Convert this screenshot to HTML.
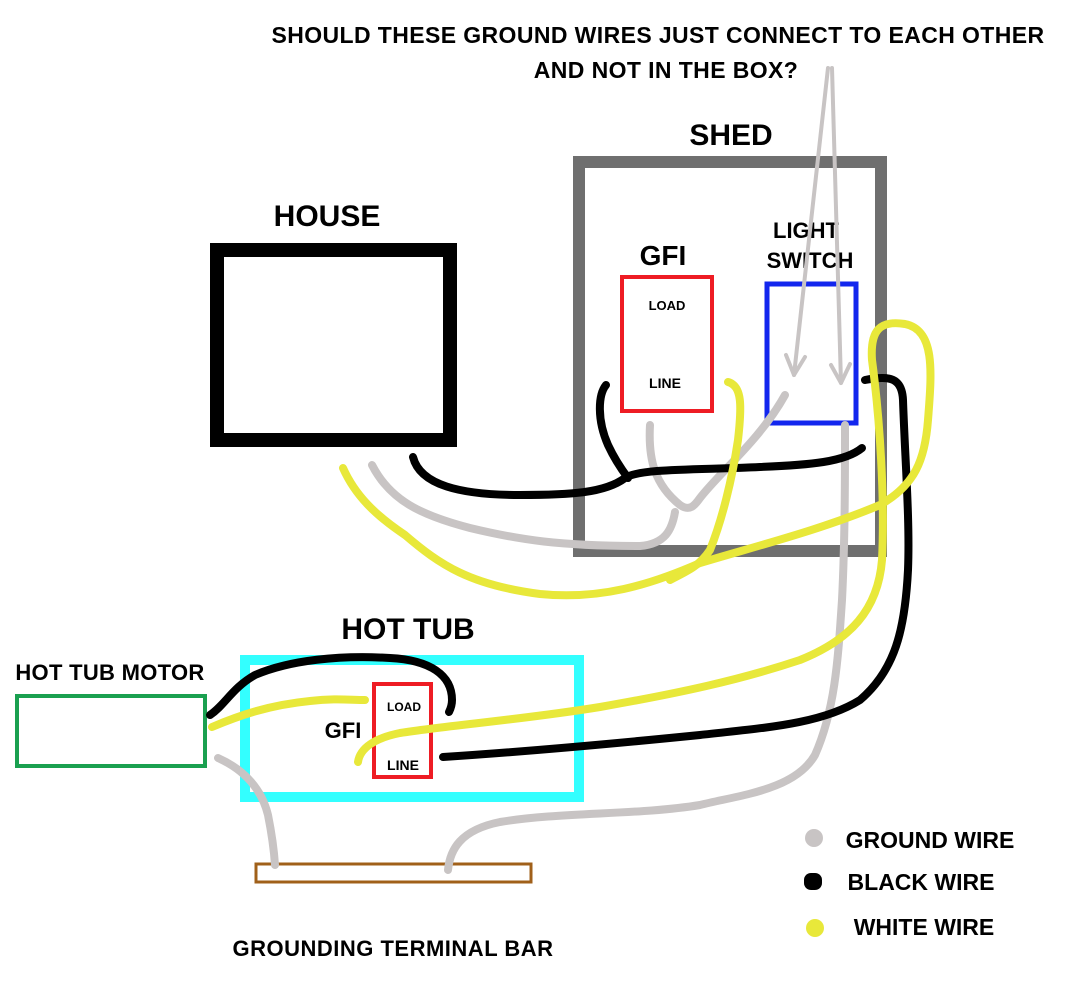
<!DOCTYPE html>
<html><head><meta charset="utf-8"><style>
html,body{margin:0;padding:0;background:#fff;}
svg{display:block;}
text{font-family:"Liberation Sans",sans-serif;font-weight:bold;fill:#000;}
</style></head><body>
<svg width="1077" height="984" viewBox="0 0 1077 984" xmlns="http://www.w3.org/2000/svg">
<!-- Titles -->
<text x="658" y="43" font-size="23" letter-spacing="0.4" text-anchor="middle">SHOULD THESE GROUND WIRES JUST CONNECT TO EACH OTHER</text>
<text x="666" y="78" font-size="23" letter-spacing="0.4" text-anchor="middle">AND NOT IN THE BOX?</text>
<text x="731" y="145" font-size="30" text-anchor="middle">SHED</text>
<text x="327" y="226" font-size="30" text-anchor="middle">HOUSE</text>
<text x="663" y="265" font-size="28" text-anchor="middle">GFI</text>
<text x="806" y="238" font-size="22" text-anchor="middle">LIGHT</text>
<text x="810" y="268" font-size="22" text-anchor="middle">SWITCH</text>
<text x="667" y="310" font-size="13" text-anchor="middle">LOAD</text>
<text x="665" y="388" font-size="14" text-anchor="middle">LINE</text>
<text x="408" y="639" font-size="30" text-anchor="middle">HOT TUB</text>
<text x="110" y="680" font-size="22" letter-spacing="0.3" text-anchor="middle">HOT TUB MOTOR</text>
<text x="343" y="738" font-size="22" text-anchor="middle">GFI</text>
<text x="404" y="711" font-size="12" text-anchor="middle">LOAD</text>
<text x="403" y="770" font-size="14" text-anchor="middle">LINE</text>
<text x="930" y="848" font-size="23" text-anchor="middle">GROUND WIRE</text>
<text x="921" y="890" font-size="23" text-anchor="middle">BLACK WIRE</text>
<text x="924" y="935" font-size="23" text-anchor="middle">WHITE WIRE</text>
<text x="393" y="956" font-size="22" letter-spacing="0.5" text-anchor="middle">GROUNDING TERMINAL BAR</text>

<!-- Boxes -->
<rect x="217" y="250" width="233" height="190" fill="none" stroke="#000" stroke-width="14"/>
<rect x="579" y="162" width="302" height="389" fill="none" stroke="#6f6f6f" stroke-width="12"/>
<rect x="622" y="277" width="90" height="134" fill="none" stroke="#ee1c24" stroke-width="4"/>
<rect x="767" y="284" width="89" height="139" fill="none" stroke="#1226ee" stroke-width="5"/>
<rect x="245" y="660" width="334" height="137" fill="none" stroke="#33ffff" stroke-width="10"/>
<rect x="374" y="684" width="57" height="93" fill="none" stroke="#ee1c24" stroke-width="4"/>
<rect x="17" y="696" width="188" height="70" fill="none" stroke="#1aa050" stroke-width="4"/>
<rect x="256" y="864" width="275" height="18" fill="none" stroke="#a0601a" stroke-width="3"/>

<g fill="none" stroke-linecap="round" stroke-linejoin="round" stroke-width="8">
<g stroke="#c8c4c4">
<path d="M372,465 C390,500 420,515 470,528 C520,540 560,546 640,546 C665,544 672,530 675,512"/>
<path d="M650,425 C648,460 655,485 680,505 C690,512 695,505 700,498 C720,472 760,440 785,395"/>
<path d="M845,425 C845,480 845,540 842,600 C838,660 835,710 815,755 C795,790 740,795 700,805 C640,815 560,812 500,822 C460,830 450,850 448,870"/>
<path d="M218,758 C245,770 262,790 268,815 C272,835 274,850 275,865"/>
</g>
<g stroke="#000">
<path d="M413,457 C420,485 460,495 520,495 C570,495 605,493 625,478 C640,468 700,470 760,467 C810,465 845,462 862,448"/>
<path d="M606,385 C598,395 597,420 608,445 C615,460 622,470 628,478"/>
<path d="M865,380 C890,375 902,378 903,400 C905,460 910,520 908,570 C905,630 895,670 860,700 C820,725 760,728 700,735 C600,745 520,752 443,757"/>
<path d="M210,715 C225,705 232,688 255,675 C290,660 340,655 390,658 C430,660 452,675 452,700 C452,706 450,710 449,712"/>
</g>
<g stroke="#e8e83a">
<path d="M343,468 C355,495 375,515 405,535 C440,565 470,585 540,594 C600,600 650,585 700,563 C760,545 820,530 880,505 C915,485 925,460 928,420 C932,370 935,330 905,324 C880,320 870,330 872,360 C880,420 885,500 882,560 C878,610 850,640 800,660 C740,680 680,693 600,707 C520,720 450,725 400,733 C375,738 360,748 358,762"/>
<path d="M728,382 C742,386 742,405 738,440 C732,480 722,520 710,550 C700,565 690,570 670,580"/>
<path d="M212,727 C240,715 270,705 310,701 C335,698 350,700 365,700"/>
</g>
</g>

<g stroke="#c8c4c4" stroke-width="4" fill="none" stroke-linecap="round" stroke-linejoin="round">
<line x1="828" y1="68" x2="794" y2="375"/>
<polyline points="786,355 794,375 805,357"/>
<line x1="832" y1="68" x2="841" y2="383"/>
<polyline points="831,365 841,383 850,364"/>
</g>

<circle cx="814" cy="838" r="9" fill="#c8c4c4"/>
<rect x="804" y="873" width="18" height="17" rx="7" fill="#000"/>
<circle cx="815" cy="928" r="9" fill="#e8e83a"/>
</svg>
</body></html>
